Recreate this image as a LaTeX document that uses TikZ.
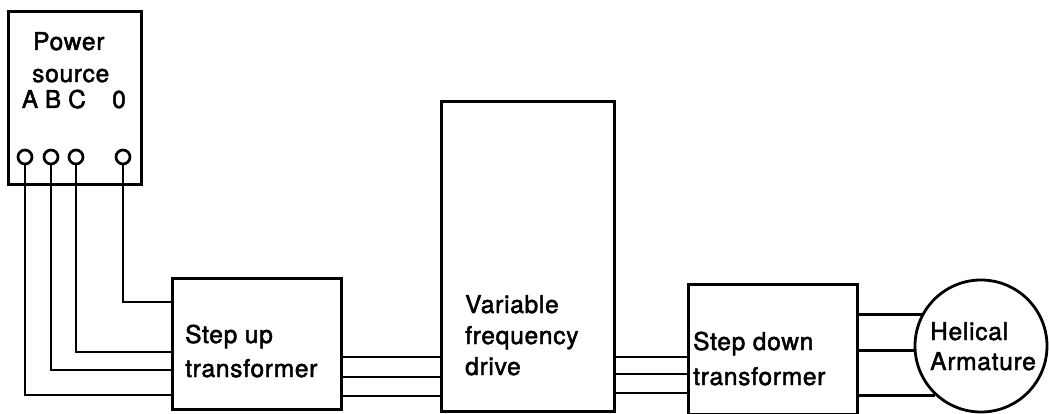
\documentclass[tikz,border=0pt]{standalone}
\usepackage{fontspec}
\setmainfont{TeX Gyre Heros}[LetterSpace=3,FakeBold=2]
\begin{document}
\begin{tikzpicture}[x=1pt,y=-1pt,
  box/.style={draw,line width=2.8pt,inner sep=0pt,anchor=north west},
  wire/.style={line width=2.8pt},
  term/.style={circle,draw,line width=2.7pt,minimum size=14pt,inner sep=0pt},
  lbl/.style={anchor=base west,inner sep=0pt,font=\fontsize{24.5}{28}\selectfont}]
\useasboundingbox (0,0) rectangle (1049,414);
% boxes
\node[box,minimum width=133pt,minimum height=173pt] (ps) at (7,10) {};
\node[box,minimum width=169pt,minimum height=131pt] (su) at (171,277) {};
\node[box,minimum width=173pt,minimum height=310pt] (vfd) at (440,100) {};
\node[box,minimum width=169pt,minimum height=130pt] (sd) at (687,283) {};
\node[circle,draw,line width=2.8pt,minimum size=132pt,inner sep=0pt] (ha) at (981,346) {};
% terminals
\node[term] (tA) at (25,157) {};
\node[term] (tB) at (51,157) {};
\node[term] (tC) at (76,157) {};
\node[term] (t0) at (123,157) {};
% labels
\node[lbl] (pw) at (33,50) {Power};
\node[lbl] (so) at (32,82) {source};
\node[lbl,anchor=base] (lA) at (30,108) {A};
\node[lbl,anchor=base] (lB) at (53,108) {B};
\node[lbl,anchor=base] (lC) at (77,108) {C};
\node[lbl,anchor=base] (l0) at (119,108) {0};
\node[lbl] (su1) at (185,343) {Step up};
\node[lbl] (su2) at (185,377) {transformer};
\node[lbl] (v1) at (465,313) {Variable};
\node[lbl] (v2) at (465,344) {frequency};
\node[lbl] (v3) at (465,375) {drive};
\node[lbl] (sd1) at (693,350) {Step down};
\node[lbl] (sd2) at (693,385) {transformer};
\node[lbl] (h1) at (930,340) {Helical};
\node[lbl] (h2) at (930,370) {Armature};
% wires source -> step up
\draw[wire] (t0.south) |- (su.west |- 0,302);
\draw[wire] (tC.south) |- (su.west |- 0,352);
\draw[wire] (tB.south) |- (su.west |- 0,370);
\draw[wire] (tA.south) |- (su.west |- 0,395);
% step up -> VFD
\draw[wire] (su.east |- 0,357) -- (vfd.west |- 0,357);
\draw[wire] (su.east |- 0,377) -- (vfd.west |- 0,377);
\draw[wire] (su.east |- 0,396) -- (vfd.west |- 0,396);
% VFD -> step down
\draw[wire] (vfd.east |- 0,357) -- (sd.west |- 0,357);
\draw[wire] (vfd.east |- 0,374) -- (sd.west |- 0,374);
\draw[wire] (vfd.east |- 0,393) -- (sd.west |- 0,393);
% step down -> armature
\draw[wire] (sd.east |- ha.152.4) -- (ha.152.4);
\draw[wire] (sd.east |- ha.184.3) -- (ha.184.3);
\draw[wire] (sd.east |- ha.227) -- (ha.227);
\end{tikzpicture}
\end{document}
